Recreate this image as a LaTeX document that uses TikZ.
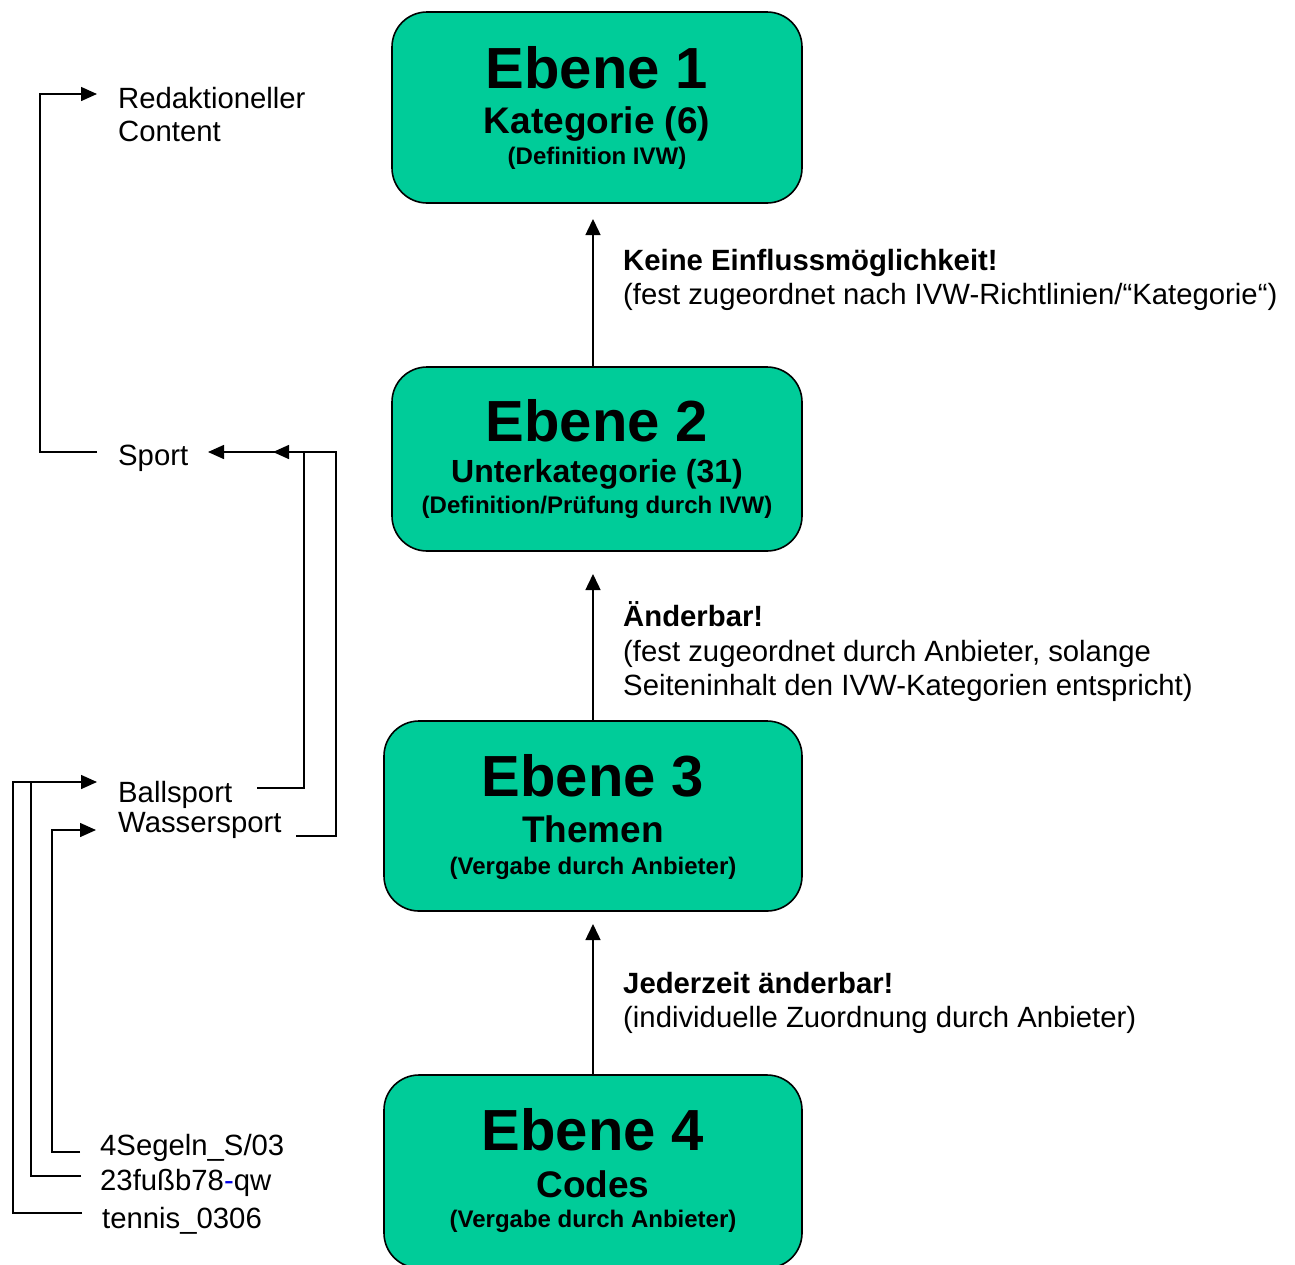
\documentclass[tikz,border=0pt]{standalone}
\usepackage{fontspec}
\setmainfont{Liberation Sans}
\usetikzlibrary{arrows.meta}
\definecolor{boxgreen}{RGB}{0,204,153}
\definecolor{dashblue}{RGB}{0,0,230}
\begin{document}
\begin{tikzpicture}[x=1pt,y=-1pt,
  levelbox/.style={draw=black, line width=1.6pt, fill=boxgreen, rounded corners=35pt, inner sep=0pt},
  bigtxt/.style={anchor=base, inner sep=0pt, font=\fontsize{58}{60}\selectfont\bfseries},
  midtxt/.style={anchor=base, inner sep=0pt, font=\fontsize{37}{40}\selectfont\bfseries},
  smalltxt/.style={anchor=base, inner sep=0pt, font=\fontsize{24}{26}\selectfont\bfseries},
  lbl/.style={anchor=base west, inner sep=0pt, font=\fontsize{29.3}{34}\selectfont},
  boldlbl/.style={lbl, font=\fontsize{29.3}{34}\selectfont\bfseries},
  conn/.style={line width=1.5pt, -{Triangle[length=16pt,width=14pt]}},
  plainline/.style={line width=1.5pt},
  uparrow/.style={line width=1.5pt, -{Triangle[length=16pt,width=15pt]}}
]
\useasboundingbox (0,0) rectangle (1295,1264);
\clip (0,0) rectangle (1295,1264);

% level boxes
\node[levelbox, minimum width=410pt, minimum height=191pt] (box1) at (597,107.5) {};
\node[levelbox, minimum width=410pt, minimum height=184pt] (box2) at (597,459) {};
\node[levelbox, minimum width=418pt, minimum height=190pt] (box3) at (593,816) {};
\node[levelbox, minimum width=418pt, minimum height=193pt] (box4) at (593,1171.5) {};

% box texts
\node[bigtxt] (e1) at (597,88) {Ebene 1};
\node[midtxt] (k1) at (597,133) {Kategorie (6)};
\node[smalltxt] (d1) at (597,164) {(Definition IVW)};

\node[bigtxt] (e2) at (597,441) {Ebene 2};
\node[midtxt, font=\fontsize{32}{36}\selectfont\bfseries] (k2) at (597,482) {Unterkategorie (31)};
\node[smalltxt] (d2) at (597,513) {(Definition/Prüfung durch IVW)};

\node[bigtxt] (e3) at (593,796) {Ebene 3};
\node[midtxt] (k3) at (593,842) {Themen};
\node[smalltxt] (d3) at (593,874) {(Vergabe durch Anbieter)};

\node[bigtxt] (e4) at (593,1150) {Ebene 4};
\node[midtxt] (k4) at (593,1197) {Codes};
\node[smalltxt] (d4) at (593,1227) {(Vergabe durch Anbieter)};

% vertical arrows
\coordinate (tip1) at (593,219);
\coordinate (tip2) at (593,574);
\coordinate (tip3) at (593,924);
\draw[uparrow] (box2.north -| tip1) -- (tip1);
\draw[uparrow] (box3.north -| tip2) -- (tip2);
\draw[uparrow] (box4.north -| tip3) -- (tip3);

% right labels
\node[boldlbl] (r1a) at (623,270) {Keine Einflussmöglichkeit!};
\node[lbl] (r1b) at (623,304) {(fest zugeordnet nach IVW-Richtlinien/“Kategorie“)};
\node[boldlbl] (r2a) at (623,626) {Änderbar!};
\node[lbl] (r2b) at (623,661) {(fest zugeordnet durch Anbieter, solange};
\node[lbl] (r2c) at (623,695) {Seiteninhalt den IVW-Kategorien entspricht)};
\node[boldlbl] (r3a) at (623,993) {Jederzeit änderbar!};
\node[lbl] (r3b) at (623,1027) {(individuelle Zuordnung durch Anbieter)};

% left labels
\node[lbl] (red) at (118,108) {Redaktioneller};
\node[lbl] (cont) at (118,141) {Content};
\node[lbl] (sport) at (118,465) {Sport};
\node[lbl] (ball) at (118,802) {Ballsport};
\node[lbl] (wass) at (118,832) {Wassersport};
\node[lbl] (seg) at (100,1155) {4Segeln\_S/03};
\node[lbl] (fuss) at (100,1190) {23fußb78{\color{dashblue}-}qw};
\node[lbl] (ten) at (102,1228) {tennis\_0306};

% left connector end points
\coordinate (redA) at (97,94);
\coordinate (sportL) at (97,452);
\coordinate (sportA) at (208,452);
\coordinate (sportB) at (273,452);
\coordinate (ballR) at (257,788);
\coordinate (wassR) at (296,836);
\coordinate (ballA) at (97,782);
\coordinate (wassA) at (96,830);
\coordinate (segR) at (80,1152);
\coordinate (fussR) at (81,1176);
\coordinate (tenR) at (82,1213);

\draw[conn] (sportL) -- (40,452) -- (40,94) -- (redA);
\draw[conn] (wassR) -- (336,836) -- (336,452) -- (sportA);
\draw[conn] (ballR) -- (304,788) -- (304,452) -- (sportB);
\draw[conn] (tenR) -- (13,1213) -- (13,782) -- (ballA);
\draw[plainline] (fussR) -- (31,1176) -- (31,782);
\draw[conn] (segR) -- (52,1152) -- (52,830) -- (wassA);
\end{tikzpicture}
\end{document}
